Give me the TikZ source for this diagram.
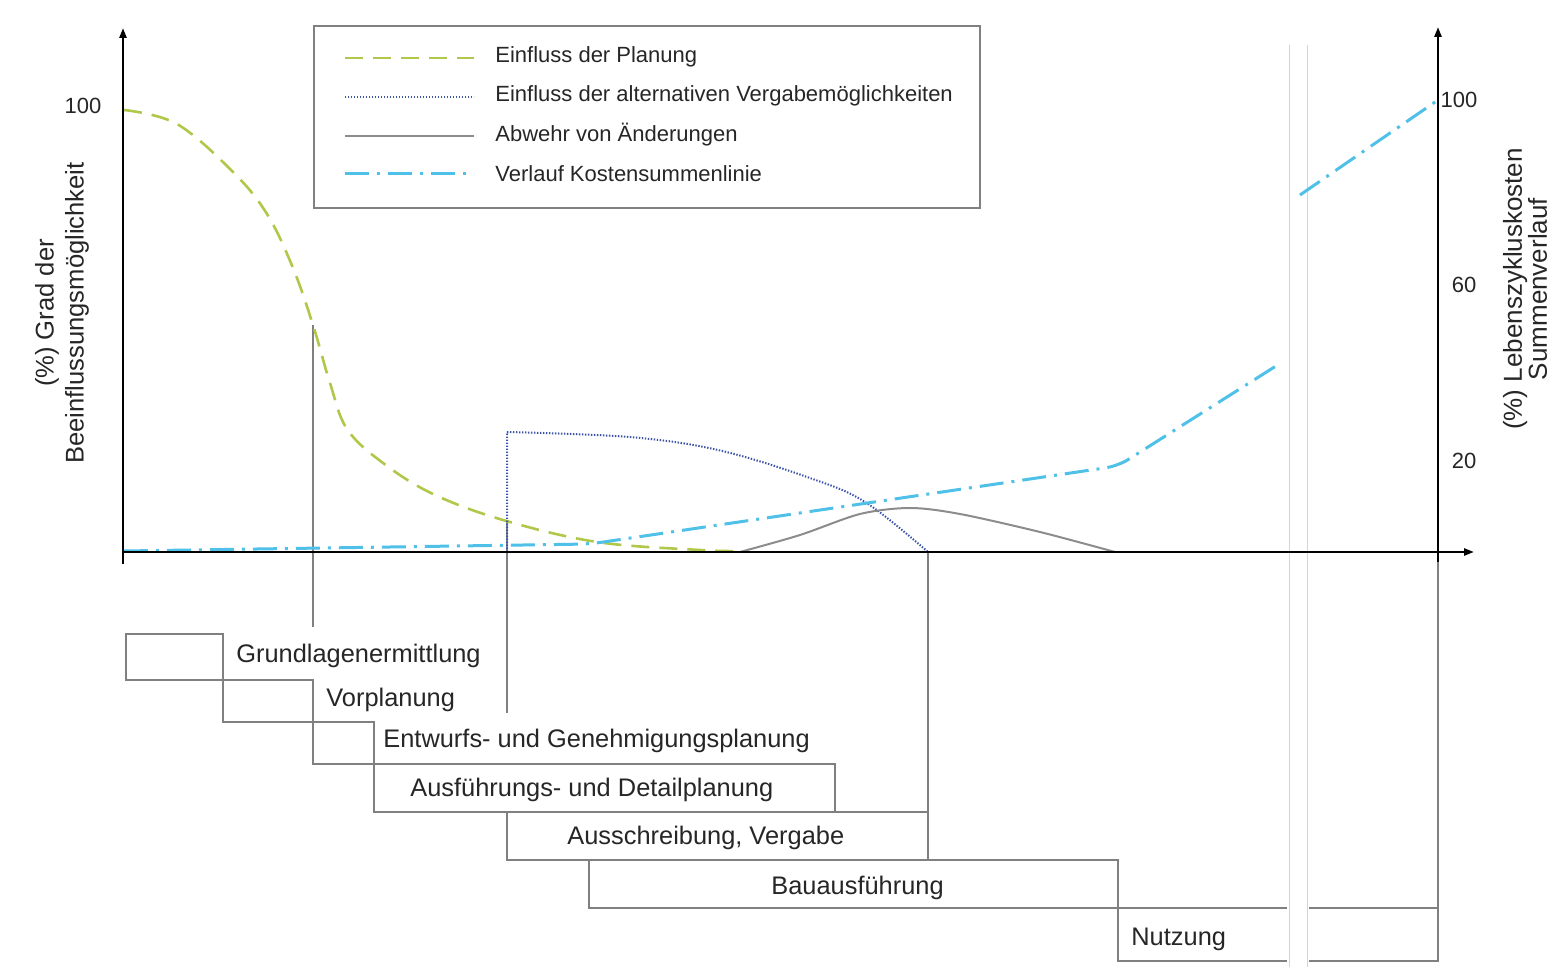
\documentclass[tikz,border=0pt]{standalone}
\usepackage{fontspec}
\setmainfont{Liberation Sans}
\usetikzlibrary{arrows.meta}
\definecolor{cgreen}{HTML}{AFC84A}
\definecolor{ccyan}{HTML}{4FC0E8}
\definecolor{cblue}{HTML}{3A52A8}
\definecolor{cgray}{HTML}{8C8C8C}
\definecolor{cbox}{HTML}{808080}
\definecolor{cbreak}{HTML}{D4D4D4}
\begin{document}
\begin{tikzpicture}[x=0.5pt,y=-0.5pt,
  lbl/.style={font=\fontsize{11}{13}\selectfont, inner sep=0pt, text=black!85},
  phlbl/.style={font=\fontsize{12.7}{14}\selectfont, inner sep=0pt, anchor=base west, text=black!85},
  phase/.style={draw=cbox, line width=0.7pt},
  guide/.style={draw=cbox, line width=0.6pt},
  axis/.style={line width=1.2pt, -{Triangle[length=5pt,width=3.5pt]}},
  planung/.style={cgreen, line width=1.3pt, dash pattern=on 9pt off 5pt},
  vergabe/.style={cblue, line width=1pt, dash pattern=on 0.7pt off 0.8pt},
  abwehr/.style={cgray, line width=1pt},
  kosten/.style={ccyan, line width=1.5pt, dash pattern=on 12pt off 4pt on 1.5pt off 4pt},
]
\useasboundingbox (0,0) rectangle (1560,967);

% axis break lines
\draw[cbreak, line width=0.5pt] (1289,45) -- (1289,967) (1307,45) -- (1307,967);

% phase boxes
\draw[phase] (126,634) rectangle (223,680);
\draw[phase] (223,680) rectangle (313,722);
\draw[phase] (313,722) rectangle (374,764);
\draw[phase] (374,764) rectangle (835,812);
\draw[phase] (507,812) rectangle (928,860);
\draw[phase] (589,860) rectangle (1118,908);
\draw[phase] (1287,908) -- (1118,908) -- (1118,961) -- (1287,961);
\draw[phase] (1309,908) -- (1438,908) -- (1438,961) -- (1309,961);

% guide lines
\coordinate (g1t) at (313,325);
\coordinate (g1b) at (313,627);
\coordinate (g2t) at (507,520);
\coordinate (g2b) at (507,713);
\coordinate (g3t) at (928,552);
\coordinate (g3b) at (928,812);
\coordinate (g4t) at (1438,562);
\coordinate (g4b) at (1438,908);
\draw[guide] (g1t) -- (g1b);
\draw[guide] (g2t) -- (g2b);
\draw[guide] (g3t) -- (g3b);
\draw[guide] (g4t) -- (g4b);

% phase labels
\node[phlbl] (p1) at (236,663) {Grundlagenermittlung};
\node[phlbl] (p2) at (326,707) {Vorplanung};
\node[phlbl] (p3) at (383,748) {Entwurfs- und Genehmigungsplanung};
\node[phlbl] (p4) at (410,797) {Ausführungs- und Detailplanung};
\node[phlbl] (p5) at (567,845) {Ausschreibung, Vergabe};
\node[phlbl] (p6) at (771,895) {Bauausführung};
\node[phlbl] (p7) at (1131,946) {Nutzung};

% curves
\draw[planung] plot[smooth, tension=0.6] coordinates {(124,110) (177,124) (233,172) (267,214) (293,268) (313,325) (330,383) (347,429) (383,463) (433,494) (503,520) (597,542) (700,550) (740,551)};
\draw[vergabe] (507,552) -- (507,432) plot[smooth, tension=0.6] coordinates {(507,432) (629,437) (718,450) (807,477) (865,502) (928,552)};
\draw[abwehr] plot[smooth, tension=0.5] coordinates {(740,552) (800,535) (860,514) (910,508) (960,514) (1040,532) (1115,552)};
\draw[kosten, rounded corners=6pt] (124,551) -- (590,544) -- (1118,466) -- (1276,366);
\draw[kosten] (1300,195) -- (1438,100);

% axes
\draw[axis] (123,564) -- (123,28);
\draw[axis] (123,552) -- (1474,552);
\draw[axis] (1438,562) -- (1438,27);

% axis labels
\node[lbl] (l100) at (83,106) {100};
\node[lbl, rotate=90, align=center, font=\fontsize{12.8}{15}\selectfont] (ltitle) at (62,313) {(\%) Grad der\\Beeinflussungsmöglichkeit};
\node[lbl] (r100) at (1459,100) {100};
\node[lbl] (r60) at (1464,285) {60};
\node[lbl] (r20) at (1464,461) {20};
\node[lbl, rotate=90, align=center, font=\fontsize{13}{12.5}\selectfont] (rtitle) at (1525,289) {(\%) Lebenszykluskosten\\Summenverlauf};

% legend
\draw[draw=cbox, line width=0.7pt] (314,26) rectangle (980,208);
\coordinate (la1) at (345,58); \coordinate (lb1) at (474,58);
\coordinate (la2) at (345,97); \coordinate (lb2) at (474,97);
\coordinate (la3) at (345,136); \coordinate (lb3) at (474,136);
\coordinate (la4) at (345,174); \coordinate (lb4) at (474,174);
\draw[planung] (la1) -- (lb1);
\draw[vergabe] (la2) -- (lb2);
\draw[abwehr] (la3) -- (lb3);
\draw[kosten] (la4) -- (lb4);
\node[lbl, anchor=west] (t1) at (495,57) {Einfluss der Planung};
\node[lbl, anchor=west] (t2) at (495,96) {Einfluss der alternativen Vergabemöglichkeiten};
\node[lbl, anchor=west] (t3) at (495,135) {Abwehr von Änderungen};
\node[lbl, anchor=west] (t4) at (495,174) {Verlauf Kostensummenlinie};
\end{tikzpicture}
\end{document}
